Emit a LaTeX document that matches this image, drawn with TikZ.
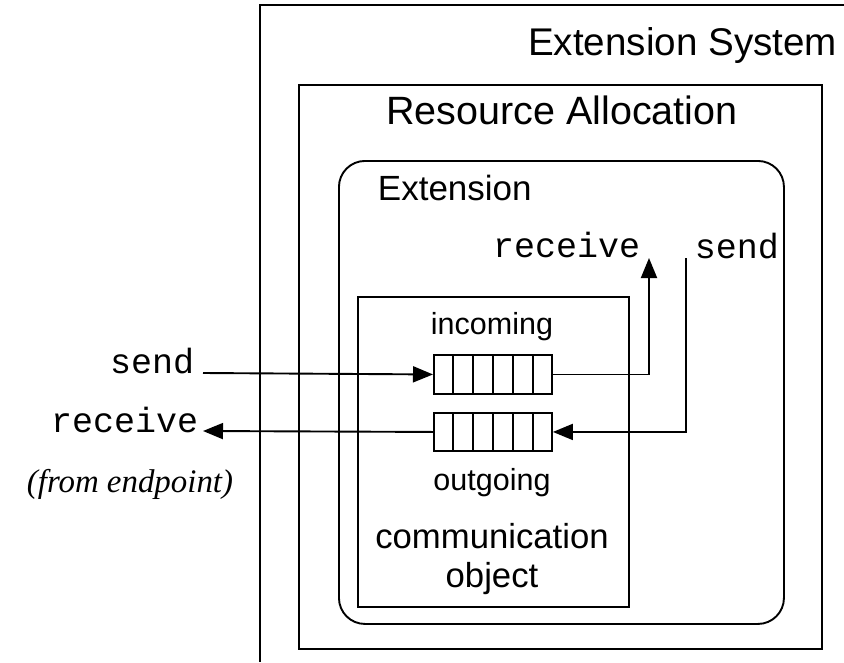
\documentclass[tikz,border=0pt]{standalone}
\usepackage{fontspec}
\setmainfont{Liberation Serif}
\setsansfont{Liberation Sans}
\setmonofont{Liberation Mono}
\usetikzlibrary{arrows.meta,calc}

\begin{document}
\begin{tikzpicture}[x=1pt,y=-1pt,line width=1.9pt,
  box/.style={draw,rectangle,inner sep=0pt,anchor=north west},
  queue/.style={draw,rectangle,inner sep=0pt,anchor=north west,minimum width=118pt},
  lbl/.style={inner sep=0pt,font=\sffamily\fontsize{30.5}{36}\selectfont},
  title/.style={inner sep=0pt,font=\sffamily\fontsize{38.6}{44}\selectfont},
  code/.style={inner sep=0pt,font=\ttfamily\fontsize{35}{40}\selectfont},
  flow/.style={-{Triangle[length=20pt,width=16pt]}}]
  \useasboundingbox (0,0) rectangle (844,662);

  % outer system frame (runs past the page on the right and bottom)
  \draw (844,5) -- (260,5) -- (260,662);
  \node[title,anchor=base east] (sysT) at (838,55) {Extension System};

  % resource allocation frame
  \node[box,minimum width=523pt,minimum height=564pt] (ra) at (298,84) {};
  \node[inner sep=0pt,anchor=base,font=\sffamily\fontsize{39.5}{45}\selectfont] (raT) at (562,124) {Resource Allocation};

  % extension, rounded
  \node[box,rounded corners=26pt,minimum width=445pt,minimum height=463pt] (ext) at (338,160) {};
  \node[inner sep=0pt,anchor=base west,font=\sffamily\fontsize{35}{40}\selectfont] (extT) at (377,200) {Extension};

  % communication object with its two queues
  \node[box,minimum width=271pt,minimum height=310pt] (comm) at (357,296) {};
  \node[lbl,anchor=base] (incT) at (492,334) {incoming};
  \node[lbl,anchor=base] (outT) at (492,490) {outgoing};
  \node[inner sep=0pt,anchor=base,font=\sffamily\fontsize{34.7}{39}\selectfont] (commT1) at (492,548) {communication};
  \node[inner sep=0pt,anchor=base,font=\sffamily\fontsize{34.7}{39}\selectfont] (commT2) at (492,587) {object};

  \node[queue,minimum height=39pt] (inq) at (433,354) {};
  \node[queue,minimum height=38pt] (outq) at (433,412) {};
  \foreach \q in {inq,outq}
    \foreach \i in {1,...,5}
      \draw ($(\q.north west)!\i/6!(\q.north east)$) -- ($(\q.south west)!\i/6!(\q.south east)$);

  % endpoint side
  \node[code,anchor=base east] (sendL) at (195,373) {send};
  \node[code,anchor=base east] (recvL) at (199,432) {receive};
  \node[inner sep=0pt,anchor=base,font=\rmfamily\itshape\fontsize{32.9}{38}\selectfont] (fromT) at (130,492) {(from endpoint)};
  \coordinate (sendIn) at (203,373);
  \coordinate (recvOut) at (203,431);
  \draw[flow] (sendIn) -- (inq.west);
  \draw[flow] (outq.west) -- (recvOut);

  % extension side
  \node[code,anchor=base east] (recvR) at (641,257) {receive};
  \node[code,anchor=base west] (sendR) at (694,258) {send};
  \coordinate (recvTip) at (649,258);
  \coordinate (sendTop) at (686,258);
  \draw[flow] (inq.east) -| (recvTip);
  \draw[flow] (sendTop) |- (outq.east);
\end{tikzpicture}
\end{document}
